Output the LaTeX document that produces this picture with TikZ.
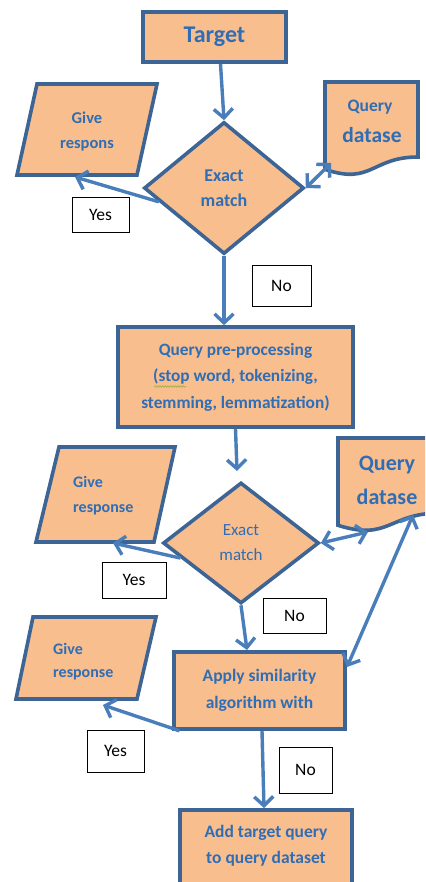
\documentclass[tikz,border=0pt]{standalone}
\usepackage{fontspec}
\setmainfont{Carlito}
\usetikzlibrary{arrows.meta,shapes.geometric,decorations.pathmorphing}
\definecolor{fillpeach}{HTML}{F9BE8E}
\definecolor{edgeblue}{HTML}{3C6494}
\definecolor{textblue}{HTML}{2F6DB5}
\definecolor{arrowblue}{HTML}{4A7EBB}
\definecolor{squiggle}{HTML}{9DB33A}
\begin{document}
\begin{tikzpicture}[x=1pt,y=-1pt,
  shapeline/.style={draw=edgeblue, line width=3.6pt, fill=fillpeach, line join=miter},
  procbox/.style={shapeline, rectangle, inner sep=0pt, text=textblue, align=center,
    font=\bfseries\fontsize{17.5}{27}\selectfont},
  decision/.style={shapeline, diamond, inner sep=0pt, text=textblue, align=center},
  txt/.style={text=textblue, inner sep=0pt},
  answer/.style={draw=black, line width=0.8pt, fill=white, rectangle, inner sep=0pt,
    font=\fontsize{17.5}{20}\selectfont},
  flow/.style={draw=arrowblue, line width=3.4pt, -{Straight Barb[length=9pt,width=19pt]}},
  twoway/.style={draw=arrowblue, line width=3.4pt,
    {Straight Barb[length=9pt,width=19pt]}-{Straight Barb[length=9pt,width=19pt]}},
]
\useasboundingbox (0,0) rectangle (425,882);
\clip (0,0) rectangle (425,882);

% ---------- first stage ----------
\node[procbox, minimum width=143pt, minimum height=50pt,
  font=\bfseries\fontsize{24}{28}\selectfont] (target) at (214.5,37) {Target};

\node[decision, minimum width=160pt, minimum height=132pt,
  font=\bfseries\fontsize{18}{25}\selectfont] (d1) at (224,188) {Exact\\match};

% output: give response
\draw[shapeline] (37,84) -- (157,84) -- (137,175) -- (17,175) -- cycle;
\node[txt, align=center, font=\bfseries\fontsize{16.5}{25}\selectfont] (give1) at (87,131.5) {Give\\respons};
\coordinate (give1tip) at (75,177);

% document: query dataset
\draw[shapeline] (325,82) -- (418,82) -- (418,157)
  .. controls (371.5,157) and (371.5,185.5) .. (325,169.3) -- cycle;
\node[txt, font=\bfseries\fontsize{17.5}{20}\selectfont] (qd1a) at (370,107) {Query};
\node[txt, font=\bfseries\fontsize{21.5}{24}\selectfont] (qd1b) at (372,135) {datase};
\coordinate (qd1port) at (331,163);

% ---------- pre-processing ----------
\node[procbox, minimum width=235pt, minimum height=100pt,
  font=\bfseries\fontsize{17.3}{26.5}\selectfont] (pre) at (235.5,377)
  {Query pre-processing\\(stop word, tokenizing,\\stemming, lemmatization)};
\draw[squiggle, line width=0.6pt, decorate,
  decoration={snake, amplitude=0.8pt, segment length=2.6pt}] (154,386.5) -- (186,386.5);

% ---------- second stage ----------
\node[decision, minimum width=156pt, minimum height=121pt,
  font=\fontsize{17}{25}\selectfont] (d2) at (241,543) {Exact\\match};

\draw[shapeline] (59,447) -- (175,447) -- (154,542) -- (36,542) -- cycle;
\node[txt, align=left, anchor=west, font=\bfseries\fontsize{16}{25}\selectfont] (give2) at (73,495.5) {Give\\response};
\coordinate (give2tip) at (113,543);

\draw[shapeline] (338,438) -- (440,438) -- (440,513)
  .. controls (389,513) and (389,541.5) .. (338,525.3) -- cycle;
\node[txt, font=\bfseries\fontsize{22}{25}\selectfont] (qd2a) at (387,465) {Query};
\node[txt, font=\bfseries\fontsize{22}{25}\selectfont] (qd2b) at (387,497) {datase};
\coordinate (qd2port) at (368,532);
\coordinate (qd2low) at (413,515);

% ---------- similarity ----------
\node[procbox, minimum width=171pt, minimum height=77pt] (apply) at (259.5,690.5)
  {Apply similarity\\algorithm with};
\coordinate (applyport) at (347,667);

\draw[shapeline] (33,617) -- (156,617) -- (137,699) -- (16,699) -- cycle;
\node[txt, align=left, anchor=west, font=\bfseries\fontsize{16}{23}\selectfont] (give3) at (53,661.5) {Give\\response};
\coordinate (give3tip) at (103,705);

% ---------- final step ----------
\draw[shapeline] (180,810) rectangle (352,905);
\node[txt, align=center, font=\bfseries\fontsize{17.5}{26}\selectfont] (addq) at (266,846)
  {Add target query\\to query dataset};
\coordinate (addtop) at (264,808);

% ---------- connectors ----------
\draw[flow] ([xshift=6pt]target.south) -- (d1.north);
\draw[flow] (d1.192) -- (give1tip);
\draw[twoway] (d1.east) -- (qd1port);
\draw[flow] (d1.south) -- (d1.south |- pre.north);

\coordinate (d2in) at (237,471);
\draw[flow] (pre.south) -- (d2in);
\draw[flow] (d2.194) -- (give2tip);
\draw[twoway] (d2.east) -- (qd2port);
\coordinate (applyin) at (247,650);
\draw[flow] (d2.south) -- (applyin);
\draw[twoway] (qd2low) -- (applyport);

\draw[flow] ([xshift=-80pt]apply.south) -- (give3tip);
\draw[flow] ([xshift=2.5pt]apply.south) -- (addtop);

% ---------- branch labels ----------
\node[answer, minimum width=57pt, minimum height=35pt] (yes1) at (100.5,214.5) {Yes};
\node[answer, minimum width=59pt, minimum height=41pt] (no1) at (281.5,285.5) {No};
\node[answer, minimum width=64pt, minimum height=36pt] (yes2) at (134,580) {Yes};
\node[answer, minimum width=63pt, minimum height=35pt] (no2) at (294.5,615.5) {No};
\node[answer, minimum width=57pt, minimum height=42pt] (yes3) at (115.5,751) {Yes};
\node[answer, minimum width=53pt, minimum height=46pt] (no3) at (305.5,770) {No};
\end{tikzpicture}
\end{document}
